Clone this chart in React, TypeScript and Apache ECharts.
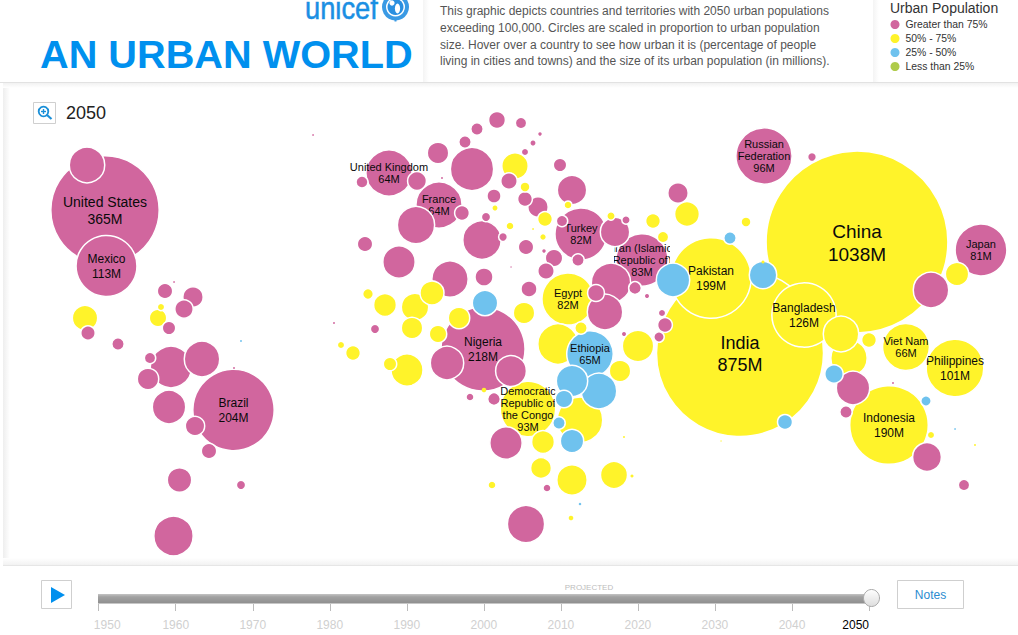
import React, { useEffect, useRef } from "react";
import * as echarts from "echarts";

const FONT = '"Liberation Sans", Arial, sans-serif';
const PINK = "#D1669E";
const YELLOW = "#FFF32A";
const BLUE = "#6FC2EE";
const GREEN = "#AFCB4A";
const UNICEF_BLUE = "#0090EE";

const titleText = "AN URBAN WORLD";
const logoText = "unicef";
const yearText = "2050";
const descriptionLines = [
  "This graphic depicts countries and territories with 2050 urban populations",
  "exceeding 100,000. Circles are scaled in proportion to urban population",
  "size. Hover over a country to see how urban it is (percentage of people",
  "living in cities and towns) and the size of its urban population (in millions).",
];
const legendTitle = "Urban Population";
const legendLabels = ["Greater than 75%", "50% - 75%", "25% - 50%", "Less than 25%"];
const legendColors = [PINK, YELLOW, BLUE, GREEN];
const timelineMin = 1950;
const timelineMax = 2050;
const timelineStep = 10;

// [label, map x, map y, urban population in millions, colour band]
const labelledCountries: [string, number, number, number, number][] = [
  ["China", 857, 242, 1038, 1],
  ["India", 740, 353, 875, 1],
  ["United States", 105, 210, 365, 0],
  ["Nigeria", 483, 349, 218, 0],
  ["Brazil", 233.5, 410, 204, 0],
  ["Pakistan", 711, 278, 199, 1],
  ["Indonesia", 889, 425, 190, 1],
  ["Bangladesh", 804, 315, 126, 1],
  ["Mexico", 106.5, 266, 113, 0],
  ["Philippines", 955, 368, 101, 1],
  ["Russian\nFederation", 764, 156, 96, 0],
  ["Democratic\nRepublic of\nthe Congo", 528, 409, 93, 1],
  ["Iran (Islamic\nRepublic of)", 642, 260, 83, 0],
  ["Turkey", 581, 234, 82, 0],
  ["Egypt", 568, 299, 82, 1],
  ["Japan", 981, 250, 81, 0],
  ["Viet Nam", 906, 347, 66, 1],
  ["Ethiopia", 590, 354, 65, 2],
  ["United Kingdom", 389, 173, 64, 0],
  ["France", 439, 205, 64, 0],
];

// [map x, map y, urban population in millions]
const otherPink: [number, number, number][] = [
  [87, 165, 37], [165, 291, 6.25], [193, 297, 11.5], [184, 309, 9.2], [88, 333, 5.4], [169, 328, 4.6],
  [118, 344, 3.9], [174, 282, 0.08], [313, 135, 0.08], [334, 323, 0.13], [171, 367, 51], [202, 359, 37],
  [150, 358, 3.2], [148, 379, 12.8], [169, 407, 32.7], [195, 426, 10.3], [209, 451, 6.25], [179.5, 480, 16.9],
  [241, 485, 2], [173.5, 536, 46], [234, 368, 0.13], [497, 120, 7.6], [521, 123, 3.2], [477, 129, 3.9],
  [540, 134, 0.37], [533, 143, 0.8], [465, 142, 3.9], [525, 152, 1.15], [438, 153, 12.8], [472, 169, 56],
  [560, 165, 4.6], [417, 181, 9.7], [362, 182, 3.6], [442, 178, 0.13], [509, 181, 7.2], [494, 196, 5.1],
  [572, 190, 25], [416, 225, 41], [462, 213, 5.7], [486, 217, 2], [525, 199, 5.7], [538, 207, 11.5],
  [562, 221, 3.2], [615, 232, 25], [626, 220, 1.56], [578, 260, 3.9], [482, 240, 43.7], [503, 237, 1.75],
  [526, 247, 6.25], [544, 251, 0.37], [554, 258, 8.2], [546, 271, 7.2], [511, 267, 0.06], [365, 244, 6.25],
  [399, 262, 30.6], [450, 279, 39], [484, 277, 8.8], [529, 289, 6.8], [596, 293, 7.6], [611, 283, 46],
  [605, 312, 37], [635, 288, 4.1], [647, 296, 0.5], [375, 329, 2], [447, 363, 32.7], [511, 371, 27.6],
  [470, 397, 1.4], [494, 399, 4.1], [506, 443, 30.6], [547, 488, 1.4], [526, 524, 41], [624, 334, 0.5],
  [659, 337, 2.6], [665, 325, 5.7], [662, 313, 1.15], [812, 157, 1.75], [931, 290, 37], [678, 193, 11.5],
  [853, 388, 32.7], [846, 412, 3.9], [893, 383, 0.13], [927, 457, 24], [964, 485, 3.2],
];
const otherYellow: [number, number, number][] = [
  [85, 318, 18.4], [161, 307, 1.15], [158, 318, 8.2], [150, 301, 0.03], [251, 360, 0.03], [515, 166, 20],
  [525, 187, 2.36], [495, 208, 0.8], [545, 219, 5.7], [568, 205, 1.4], [611, 216, 1.56], [653, 221, 5.7],
  [510, 226, 1.4], [533, 229, 0.08], [543, 237, 0.93], [368, 294, 2.8], [385, 305, 14.6], [415, 307, 21.6],
  [432, 293, 16.3], [459, 318, 12.8], [524, 313, 12.8], [412, 328, 12.8], [438, 334, 8.2], [581, 328, 3.9],
  [353, 353, 5.7], [341, 345, 1.15], [407, 370, 30], [390, 364, 4.6], [484, 390, 0.67], [543, 442, 14.6],
  [541, 468, 12], [572, 480, 26.8], [614, 475, 21], [632, 476, 0.3], [624, 437, 0.13], [492, 485, 1.4],
  [571, 518, 0.67], [558, 344, 48.5], [638, 346, 28.7], [620, 371, 12.8], [580, 420, 62], [957, 274, 15.4],
  [687, 214, 17.5], [746, 222, 2.36], [663, 237, 3.2], [763, 262, 0.3], [841, 334, 37], [869, 340, 5.7],
  [849, 358, 39], [931, 435, 1.15], [975, 445, 0.13], [721, 441, 0.05], [411, 384, 0.13],
];
const otherBlue: [number, number, number][] = [
  [241, 341, 0.13], [485, 303, 18.4], [572, 381, 28.7], [599, 391, 37], [564, 399, 8.2], [559, 423, 3.9],
  [572, 441, 15.4], [580, 504, 0.2], [730, 238, 3.9], [673, 280, 32.7], [763, 275, 21.6], [834, 374, 9.2],
  [926, 401, 2.6], [785, 422, 5.9], [955, 429, 0.08],
];

const BAND_COLORS = [PINK, YELLOW, BLUE, GREEN];
const RADIUS_PER_ROOT_MILLION = 2.8;
// Bubbles paint largest first; Ethiopia's label sits above its slightly smaller yellow neighbour.
const paintRank = (m: { m: number; label: string }) => (m.label === "Ethiopia" ? 48 : m.m);

type Mark = { x: number; y: number; m: number; band: number; label: string };
const marks: Mark[] = [
  ...labelledCountries.map(([label, x, y, m, band]) => ({ x, y, m, band, label })),
  ...otherPink.map(([x, y, m]) => ({ x, y, m, band: 0, label: "" })),
  ...otherYellow.map(([x, y, m]) => ({ x, y, m, band: 1, label: "" })),
  ...otherBlue.map(([x, y, m]) => ({ x, y, m, band: 2, label: "" })),
].sort((a, b) => paintRank(b) - paintRank(a));

function labelFont(m: number) {
  if (m > 1000) return { size: 19, lh: 23, dy: 0.5 };
  if (m > 500) return { size: 18, lh: 22, dy: 0.5 };
  if (m > 300) return { size: 14, lh: 17, dy: 0.5 };
  if (m > 100) return { size: 12, lh: 15, dy: 0 };
  return { size: 11, lh: 12, dy: -0.5 };
}
const clippedLabels: Record<string, number> = {
  "Iran (Islamic\nRepublic of)": 28,
  "Democratic\nRepublic of\nthe Congo": 27.5,
  Philippines: 30,
};

function renderBubble(params: any, api: any) {
  const mark = marks[params.dataIndex];
  const [cx, cy] = api.coord([api.value(0), api.value(1)]);
  const r = Math.sqrt(api.value(2)) * RADIUS_PER_ROOT_MILLION;
  const children: any[] = [
    {
      type: "circle",
      shape: { cx, cy, r: r + (r > 2.5 ? 0.7 : 0) },
      style: { fill: BAND_COLORS[mark.band], stroke: r > 2.5 ? "#fff" : "none", lineWidth: r > 2.5 ? 1.5 : 0 },
    },
  ];
  if (mark.label) {
    const f = labelFont(mark.m);
    const text: any = {
      type: "text",
      style: {
        text: `${mark.label}\n${mark.m}M`,
        x: cx,
        y: cy + f.dy,
        align: "center",
        verticalAlign: "middle",
        fontFamily: FONT,
        fontSize: f.size,
        lineHeight: f.lh,
        fill: "#0a0a0a",
      },
    };
    const half = clippedLabels[mark.label];
    if (half) text.clipPath = { type: "rect", shape: { x: cx - half, y: cy - 40, width: half * 2, height: 80 } };
    children.push(text);
  }
  return { type: "group", children };
}

function chromeGraphics() {
  const t = (text: string, x: number, y: number, size: number, fill: string, extra: any = {}, extraEl: any = {}) => ({
    type: "text",
    x,
    y,
    silent: true,
    ...extraEl,
    style: { text, fontFamily: FONT, fontSize: size, fill, align: "left", verticalAlign: "middle", ...extra },
  });
  const line = (x1: number, y1: number, x2: number, y2: number, stroke: string, lineWidth = 1) => ({
    type: "line",
    silent: true,
    shape: { x1, y1, x2, y2 },
    style: { stroke, lineWidth },
  });
  const fade = (x0: number, y0: number, x1: number, y1: number, from: string, to: string) =>
    new echarts.graphic.LinearGradient(x0, y0, x1, y1, [
      { offset: 0, color: from },
      { offset: 1, color: to },
    ]);
  const els: any[] = [
    // panels
    { type: "rect", silent: true, shape: { x: 423, y: -2, width: 6, height: 84 }, style: { fill: fade(0, 0, 1, 0, "#f4f4f4", "#ffffff") } },
    { type: "rect", silent: true, shape: { x: 873, y: -2, width: 6, height: 84 }, style: { fill: fade(0, 0, 1, 0, "#f4f4f4", "#ffffff") } },
    { type: "rect", silent: true, shape: { x: 3, y: 83, width: 7, height: 482 }, style: { fill: fade(0, 0, 1, 0, "#eeeeee", "#ffffff") } },
    { type: "rect", silent: true, shape: { x: 3, y: 558, width: 1015, height: 7.5 }, style: { fill: fade(0, 0, 0, 1, "#ffffff", "#f1f1f1") } },
    { type: "rect", silent: true, shape: { x: 3, y: 83, width: 1015, height: 5 }, style: { fill: fade(0, 0, 0, 1, "#f2f2f2", "#ffffff") } },
    line(0, 82.5, 1018, 82.5, "#e2e2e2"),
    line(3, 565.5, 1018, 565.5, "#e6e6e6"),
    // header
    t(logoText, 305, 8, 31, "#1a8fe3", { stroke: "#1a8fe3", lineWidth: 0.5 }, { scaleX: 0.88 }),
    { type: "circle", silent: true, shape: { cx: 395.5, cy: 7, r: 13.5 }, style: { fill: "#3a9ae4" } },
    { type: "circle", silent: true, shape: { cx: 395.5, cy: 7, r: 9.5 }, style: { fill: "#ffffff" } },
    { type: "circle", silent: true, shape: { cx: 395.5, cy: 7, r: 8 }, style: { fill: "#2a8fe0" } },
    { type: "circle", silent: true, shape: { cx: 392, cy: 3, r: 2.6 }, style: { fill: "#ffffff" } },
    { type: "ellipse", silent: true, shape: { cx: 397.5, cy: 8.5, rx: 2.6, ry: 5 }, style: { fill: "#ffffff" } },
    { type: "rect", silent: true, shape: { x: 394.5, y: 20, width: 2, height: 1.5 }, style: { fill: "#3a9ae4" } },
    t(titleText, 40, 54, 39.7, UNICEF_BLUE, { fontWeight: "bold" }),
    ...descriptionLines.map((s, i) => t(s, 440, [10.5, 27.5, 45, 61][i], 12, "#555555")),
    t(legendTitle, 890, 8, 14, "#333333"),
    ...legendLabels.flatMap((s, i) => [
      { type: "circle", silent: true, shape: { cx: 895, cy: 24.5 + i * 14, r: 4.5 }, style: { fill: legendColors[i] } },
      t(s, 905.5, 24.5 + i * 14, 10.4, "#333333"),
    ]),
    // year and zoom icon
    { type: "rect", silent: true, shape: { x: 33.5, y: 102.5, width: 22, height: 21 }, style: { fill: "#fff", stroke: "#cfcfcf" } },
    { type: "circle", silent: true, shape: { cx: 43.5, cy: 111.5, r: 4.8 }, style: { fill: "#fff", stroke: "#1a8fd8", lineWidth: 1.8 } },
    line(47, 115, 51.5, 119, "#1a8fd8", 2.2),
    line(41, 111.5, 46, 111.5, "#1a8fd8", 1.4),
    line(43.5, 109, 43.5, 114, "#1a8fd8", 1.4),
    t(yearText, 66, 113, 18, "#222222"),
    // timeline
    { type: "rect", silent: true, shape: { x: 41.5, y: 580.5, width: 30, height: 28 }, style: { fill: "#fff", stroke: "#cfcfcf" } },
    { type: "polygon", silent: true, shape: { points: [[51, 587], [65, 595], [51, 603]] }, style: { fill: UNICEF_BLUE } },
    t("PROJECTED", 589, 587, 8, "#bdbdbd", { align: "center" }),
    {
      type: "rect",
      silent: true,
      shape: { x: 98, y: 594, width: 772, height: 9.5 },
      style: {
        fill: new echarts.graphic.LinearGradient(0, 0, 0, 1, [
          { offset: 0, color: "#c4c4c4" },
          { offset: 0.3, color: "#a2a2a2" },
          { offset: 1, color: "#8e8e8e" },
        ]),
      },
    },
    {
      type: "ellipse",
      silent: true,
      z: 5,
      shape: { cx: 871.5, cy: 598, rx: 8, ry: 8.5 },
      style: { fill: fade(0, 0, 0, 1, "#ffffff", "#dddddd"), stroke: "#aaaaaa" },
    },
    { type: "rect", silent: true, shape: { x: 897.5, y: 580.5, width: 66, height: 28 }, style: { fill: "#fff", stroke: "#cfcfcf" } },
    t("Notes", 930.5, 595, 12, "#2a8cd0", { align: "center" }),
  ];
  return els;
}

export default function App() {
  const ref = useRef<HTMLDivElement>(null);
  useEffect(() => {
    if (!ref.current) return;
    const chart = echarts.init(ref.current, undefined, { renderer: "svg" });
    chart.setOption({
      animation: false,
      backgroundColor: "#ffffff",
      grid: [
        { left: 0, right: 0, top: 0, bottom: 0 },
        { left: 98.7, width: 770.3, top: 603, height: 1 },
      ],
      xAxis: [
        { type: "value", gridIndex: 0, min: 0, max: 1018, show: false },
        {
          type: "value",
          gridIndex: 1,
          min: timelineMin,
          max: timelineMax,
          interval: timelineStep,
          splitLine: { show: false },
          axisLine: { show: false },
          axisTick: { show: true, length: 7, lineStyle: { color: "#bbbbbb" } },
          axisLabel: {
            margin: 15,
            fontSize: 12,
            fontFamily: FONT,
            alignMaxLabel: "right",
            formatter: (v: number) =>
              v === timelineMax ? `{on|${v}}` : v === timelineMin ? `{first|${v}}` : `{off|${v}}`,
            rich: {
              on: { color: "#000000", fontSize: 12, fontFamily: FONT },
              off: { color: "#d0d0d0", fontSize: 12, fontFamily: FONT },
              first: { color: "#d0d0d0", fontSize: 12, fontFamily: FONT, padding: [0, 0, 0, 17] },
            },
          },
        },
      ],
      yAxis: [
        { type: "value", gridIndex: 0, min: 0, max: 635, inverse: true, show: false },
        { type: "value", gridIndex: 1, show: false },
      ],
      graphic: { elements: chromeGraphics() },
      series: [
        {
          type: "custom",
          xAxisIndex: 0,
          yAxisIndex: 0,
          clip: false,
          silent: true,
          encode: { x: 0, y: 1 },
          data: marks.map((m) => [m.x, m.y, m.m]),
          renderItem: renderBubble,
        },
      ],
    });
    return () => chart.dispose();
  }, []);
  return <div ref={ref} style={{ position: "absolute", left: 0, top: 0, width: 1018, height: 635 }} />;
}
